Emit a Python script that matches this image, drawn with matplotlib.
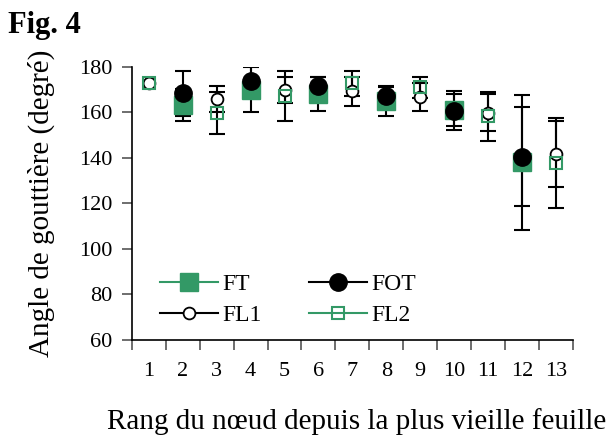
import numpy as np
import matplotlib
matplotlib.use("Agg")
from matplotlib import pyplot as plt
from matplotlib.lines import Line2D

plt.rcParams['font.family'] = ['Liberation Serif', 'DejaVu Serif']

# rang du noeud
rangs = np.arange(1, 14)
nan = np.nan
# moyennes (degré)
ft = [nan, 163.3, nan, 170.0, nan, 168.1, nan, 164.8, nan, 161.2, nan, 138.0, nan]
fot = [nan, 168.4, nan, 174.0, nan, 171.6, nan, 167.3, nan, 160.8, nan, 140.6, nan]
fl1 = [173.0, nan, 165.8, nan, 169.9, nan, 169.2, nan, 166.7, nan, 159.9, nan, 141.8]
fl2 = [173.0, nan, 159.6, nan, 167.3, nan, 172.8, nan, 171.0, nan, 158.2, nan, 137.7]
# écarts-types
ft_err = [nan, 7.0, nan, 9.8, nan, 7.3, nan, 6.6, nan, 7.0, nan, 29.5, nan]
fot_err = [nan, 10.0, nan, 7.6, nan, 4.0, nan, 3.7, nan, 8.7, nan, 21.8, nan]
fl1_err = [nan, nan, 5.6, nan, 5.8, nan, 6.5, nan, 6.0, nan, 8.1, nan, 14.6]
fl2_err = [nan, nan, 9.2, nan, 11.0, nan, 5.4, nan, 4.7, nan, 10.8, nan, 19.8]

vert = '#339966'

fig = plt.figure(figsize=(6.08, 4.37), dpi=100)
ax = fig.add_axes([0.217, 0.222, 0.725, 0.625])

series = [
    (ft, ft_err, dict(marker='s', ms=12.5, mfc=vert, mec=vert), vert, 'FT'),
    (fot, fot_err, dict(marker='o', ms=12.5, mfc='black', mec='black'), 'black', 'FOT'),
    (fl1, fl1_err, dict(marker='o', ms=8.5, mfc='white', mec='black', mew=1.3), 'black', 'FL1'),
    (fl2, fl2_err, dict(marker='s', ms=9, mfc='none', mec=vert, mew=1.5), vert, 'FL2'),
]

# barres d'erreur d'abord, marqueurs par-dessus
for y, e, style, c, lab in series:
    ax.errorbar(rangs, y, yerr=e, fmt='none', ecolor='black', elinewidth=1.5,
                capsize=5.5, capthick=1.5, zorder=2)
for y, e, style, c, lab in series:
    ax.plot(rangs, y, ls='none', zorder=3, **style)

# ordre pour remplir par lignes : FT FOT / FL1 FL2
order = [0, 2, 1, 3]
handles = [Line2D([0], [0], color=series[i][3], lw=1.5, **series[i][2]) for i in order]
labels = [series[i][4] for i in order]
ax.legend(handles, labels, ncol=2, frameon=False, fontsize=17,
          handlelength=2.45, columnspacing=2.0, handletextpad=0.2,
          labelspacing=0.4, borderpad=0, borderaxespad=0,
          loc='lower left', bbox_to_anchor=(0.063, 0.05))

ax.set_xlim(0.5, 13.5)
ax.set_ylim(60, 180)
ax.set_yticks(np.arange(60, 181, 20))
ax.set_xticks(np.arange(0.5, 13.6, 1))
ax.set_xticklabels([])
ax.set_xticks(rangs, minor=True)
ax.set_xticklabels([str(r) for r in rangs], minor=True)
ax.tick_params(axis='x', which='minor', length=0, pad=16, labelsize=16)
ax.tick_params(axis='x', which='major', length=7, width=1.2, color='#555555')
ax.tick_params(axis='y', length=7, width=1.2, pad=7, labelsize=16, color='#555555')
for s in ['top', 'right']:
    ax.spines[s].set_visible(False)
for s in ['left', 'bottom']:
    ax.spines[s].set_linewidth(1.2)

ax.set_xlabel('Rang du nœud depuis la plus vieille feuille', fontsize=21, va='baseline')
ax.xaxis.set_label_coords(0.51, -0.325)
ax.set_ylabel('Angle de gouttière (degré)', fontsize=21)
ax.yaxis.set_label_coords(-0.175, 0.5)

fig.text(0.013, 0.925, 'Fig. 4', fontsize=22, fontweight='bold')

fig.savefig('out.png', dpi=100)
